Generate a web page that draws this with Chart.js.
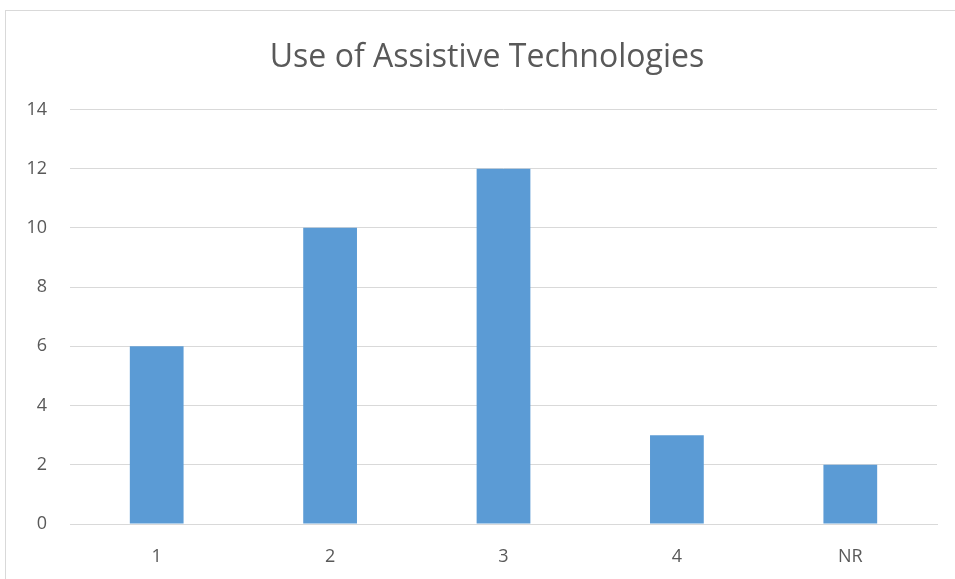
<!DOCTYPE html>
<html>
<head>
<meta charset="utf-8">
<script src="https://cdn.jsdelivr.net/npm/chart.js@4"></script>
<style>
  html, body { margin: 0; padding: 0; background: #ffffff; }
  #wrap { position: relative; width: 955px; height: 579px; overflow: hidden; }
  #frame { position: absolute; left: 5px; top: 10px; width: 1000px; height: 1000px; border: 1px solid #d9d9d9; box-sizing: border-box; }
  #c { position: absolute; left: 0; top: 0; }
</style>
</head>
<body>
<div id="wrap">
  <div id="frame"></div>
  <canvas id="c" width="974" height="579"></canvas>
</div>
<script>
const categories = ['1', '2', '3', '4', 'NR'];
const counts = [6, 10, 12, 3, 2];
const yTicks = [0, 2, 4, 6, 8, 10, 12, 14];

const textColor = '#595959';
const gridColor = '#d9d9d9';
const font = "'Open Sans', sans-serif";

new Chart(document.getElementById('c'), {
  type: 'bar',
  data: {
    labels: categories,
    datasets: [{
      label: 'Use of Assistive Technologies',
      data: counts,
      backgroundColor: '#5b9bd5',
      borderWidth: 0,
      barPercentage: 0.31,
      categoryPercentage: 1.0
    }]
  },
  options: {
    responsive: false,
    animation: false,
    layout: { padding: 0 },
    plugins: {
      legend: { display: false },
      tooltip: { enabled: false },
      title: {
        display: true,
        text: 'Use of Assistive Technologies',
        color: textColor,
        font: { family: font, size: 32, weight: 'normal' },
        padding: { top: 39, bottom: 32 }
      }
    },
    scales: {
      x: {
        grid: { display: false, drawTicks: false },
        border: { display: true, color: gridColor, width: 1 },
        ticks: { color: textColor, font: { family: font, size: 18 }, padding: 22 },
        afterFit: (s) => { s.height = 55; }
      },
      y: {
        min: 0,
        max: 14,
        afterBuildTicks: (s) => { s.ticks = yTicks.map(v => ({ value: v })); },
        grid: { color: gridColor, lineWidth: 1, drawTicks: false },
        border: { display: false },
        ticks: { color: textColor, font: { family: font, size: 18 }, padding: 23 },
        afterFit: (s) => { s.width = 70; }
      },
      // empty right-hand margin strip
      yRight: {
        position: 'right',
        display: true,
        grid: { display: false, drawTicks: false },
        border: { display: false },
        ticks: { display: false },
        afterFit: (s) => { s.width = 37; }
      }
    }
  }
});
</script>
</body>
</html>
